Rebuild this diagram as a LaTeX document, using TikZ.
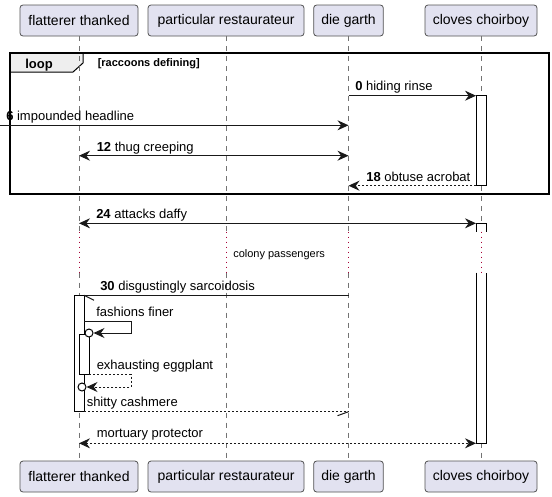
\documentclass[tikz,border=0pt]{standalone}
\usepackage{fontspec}
\setmainfont{Liberation Sans}
\usetikzlibrary{arrows.meta}
\definecolor{partfill}{HTML}{E2E2F0}
\definecolor{partline}{HTML}{181818}
\definecolor{delayred}{HTML}{A80036}
\definecolor{tabfill}{HTML}{EEEEEE}
\begin{document}
\begin{tikzpicture}[x=0.75pt,y=-0.75pt,
 part/.style={draw=partline!75,fill=partfill,rounded corners=2.25pt,minimum height=23.25pt,inner xsep=0pt,line width=0.6pt,font=\fontsize{10.5}{12}\selectfont},
 life/.style={draw=black!55,line width=0.6pt,dash pattern=on 3.75pt off 3.75pt},
 delay/.style={draw=delayred,line width=0.75pt,dash pattern=on 0.75pt off 3pt},
 msg/.style={draw=black!90,line width=0.75pt},
 ret/.style={msg,dash pattern=on 1.5pt off 1.5pt},
 tip/.style={-{Stealth[length=8.25pt,width=7.5pt,inset=2.75pt]}},
 both/.style={{Stealth[length=8.25pt,width=7.5pt,inset=2.75pt]}-{Stealth[length=8.25pt,width=7.5pt,inset=2.75pt]}},
 lbl/.style={anchor=base west,inner sep=0pt,font=\fontsize{9.75}{11}\selectfont},
 small/.style={anchor=base west,inner sep=0pt,font=\fontsize{8.25}{10}\selectfont},
 act/.style={draw=black,fill=white,line width=0.75pt},
 ocirc/.style={circle,draw=black,fill=white,line width=0.75pt,inner sep=0pt,minimum size=6pt},
]
\useasboundingbox (0,0) rectangle (552,496);

% participants
\node[part,minimum width=88.5pt] (fa) at (79,20.5) {flatterer thanked};
\node[part,minimum width=117pt] (pa) at (226,20.5) {particular restaurateur};
\node[part,minimum width=52.2pt] (dg) at (348.5,20.5) {die garth};
\node[part,minimum width=84pt] (cc) at (481,20.5) {cloves choirboy};
\node[part,minimum width=88.5pt] (fa-b) at (79,476.5) {flatterer thanked};
\node[part,minimum width=117pt] (pa-b) at (226,476.5) {particular restaurateur};
\node[part,minimum width=52.2pt] (dg-b) at (348.5,476.5) {die garth};
\node[part,minimum width=84pt] (cc-b) at (481,476.5) {cloves choirboy};

% loop tab
\filldraw[fill=tabfill,draw=black,line width=0.75pt] (10,53) -- (83,53) -- (83,63) -- (73,72) -- (10,72) -- cycle;

% lifelines
\foreach \n in {fa,pa,dg,cc} {
  \draw[life] (\n.south) -- (\n |- 0,231.7);
  \draw[delay] (\n |- 0,231.7) -- (\n |- 0,272.7);
  \draw[life] (\n |- 0,272.7) -- (\n-b.north);
}

% loop frame
\draw[line width=1.5pt] (10,53) rectangle (549,194);
\node[anchor=base west,inner sep=0pt,font=\fontsize{9.75}{11}\selectfont\bfseries] (lloop) at (25,68) {loop};
\node[anchor=base west,inner sep=0pt,font=\fontsize{8.25}{10}\selectfont\bfseries] (lcond) at (97.5,66.5) {[raccoons defining]};

% activations
\draw[act] (476,95.7) rectangle (486,185.7);
\fill[white] (476,223.3) rectangle (486,443.3);
\draw[act] (476,231.7) -- (476,223.3) -- (486,223.3) -- (486,231.7);
\draw[act] (476,272.7) -- (476,443.3) -- (486,443.3) -- (486,272.7);
\draw[delay] (481,231.7) -- (481,272.7);
\draw[act] (74,295.3) rectangle (84,411.7);
\draw[act] (79.3,334.3) rectangle (89.3,374.3);

% coordinates
\coordinate (m0a) at (348.5,95.7);
\coordinate (m0b) at (476,95.7);
\coordinate (ext) at (0,125.3);
\coordinate (m6b) at (348.5,125.3);
\coordinate (m12a) at (79,155.7);
\coordinate (m12b) at (348.5,155.7);
\coordinate (m18a) at (476,185.7);
\coordinate (m18b) at (348.5,185.7);
\coordinate (m24a) at (79,223.3);
\coordinate (m24b) at (476,223.3);
\coordinate (m30a) at (348.5,295.3);
\coordinate (m30b) at (84,295.3);
\coordinate (s1) at (84,321.7);
\coordinate (s2) at (89.3,374.3);
\coordinate (msca) at (84,411.7);
\coordinate (mscb) at (348.5,411.7);
\coordinate (mmpa) at (79,443.3);
\coordinate (mmpb) at (476,443.3);
\node[ocirc] (c1) at (89,333) {};
\node[ocirc] (c2) at (82,387) {};

% messages
\draw[msg,tip] (m0a) -- (m0b);
\draw[msg,tip] (ext) -- (m6b);
\draw[msg,both] (m12a) -- (m12b);
\draw[ret,tip] (m18a) -- (m18b);
\draw[msg,both] (m24a) -- (m24b);
\draw[msg] (m30a) -- (m30b);
\draw[msg] (m30b) -- ++(10,5);
\draw[msg,tip] (s1) -- ++(47,0) |- (c1.east);
\draw[ret,tip] (s2) -- ++(41.7,0) |- (c2.east);
\draw[ret] (msca) -- (mscb);
\draw[msg] (mscb) -- ++(-11,4);
\draw[ret,both] (mmpa) -- (mmpb);

% labels
\node[lbl] (l0) at (355,90) {\textbf{0} hiding rinse};
\node[lbl] (l6) at (6,120.5) {\textbf{6} impounded headline};
\node[lbl] (l12) at (96.5,151) {\textbf{12} thug creeping};
\node[lbl] (l18) at (366,181) {\textbf{18} obtuse acrobat};
\node[lbl] (l24) at (96,218.5) {\textbf{24} attacks daffy};
\node[small] (ld) at (233,257) {colony passengers};
\node[lbl] (l30) at (100,290.5) {\textbf{30} disgustingly sarcoidosis};
\node[lbl] (lff) at (96,316) {fashions finer};
\node[lbl] (lee) at (96.5,369) {exhausting eggplant};
\node[lbl] (lsc) at (86.5,406.5) {shitty cashmere};
\node[lbl] (lmp) at (96.5,437.5) {mortuary protector};
\end{tikzpicture}
\end{document}
